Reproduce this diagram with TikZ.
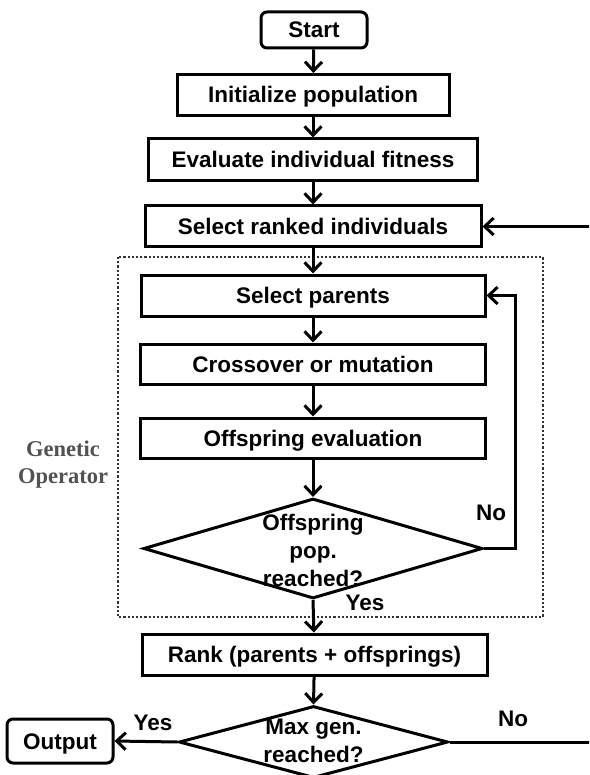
\documentclass[tikz,border=0pt]{standalone}
\usepackage{fontspec}
\setmainfont{Liberation Sans}
\newfontfamily\serifbold{Liberation Serif}
\usetikzlibrary{shapes.geometric,arrows.meta}
\begin{document}
\begin{tikzpicture}[x=1pt,y=-1pt,
  txt/.style={font=\bfseries\fontsize{22.5}{28}\selectfont},
  box/.style={txt,draw=black,line width=3pt,rectangle,inner sep=0pt,align=center,text height=16pt,text depth=0pt},
  rbox/.style={box,rounded corners=6pt},
  dia/.style={draw=black,line width=3pt,diamond,inner sep=0pt},
  dtext/.style={txt,align=center,inner sep=0pt},
  lbl/.style={txt,inner sep=0pt},
  arr/.style={line width=3pt,-{Straight Barb[length=9pt,width=17pt]}},
  grp/.style={draw=black!80,line width=2.4pt,dash pattern=on 2.2pt off 2pt}]
\useasboundingbox (0,0) rectangle (589,775);
\fill[white] (0,0) rectangle (589,775);
\clip (0,0) rectangle (589,775);

\node[rbox,minimum width=106pt,minimum height=36pt] (start) at (314,30) {Start};
\node[box,minimum width=272pt,minimum height=41pt] (init) at (313,95) {Initialize population};
\node[box,minimum width=329pt,minimum height=42pt] (eval) at (313,160) {Evaluate individual fitness};
\node[box,minimum width=336pt,minimum height=41pt] (ranked) at (313,226.5) {Select ranked individuals};
\node[box,minimum width=344pt,minimum height=41pt] (parents) at (313,295.5) {Select parents};
\node[box,minimum width=345pt,minimum height=40pt] (cross) at (313,364) {Crossover or mutation};
\node[box,minimum width=345pt,minimum height=40pt] (offeval) at (313,438) {Offspring evaluation};
\node[dia,minimum width=339pt,minimum height=100pt] (d1) at (313,548.5) {};
\node[dtext] (d1t) at (313,550) {Offspring\\pop.\\reached?};
\node[box,minimum width=345pt,minimum height=41pt] (rank) at (314.5,654.5) {Rank (parents + offsprings)};
\node[dia,minimum width=269pt,minimum height=72pt] (d2) at (313.5,742) {};
\node[dtext] (d2t) at (313.5,741) {Max gen.\\reached?};
\node[rbox,minimum width=106pt,minimum height=44pt] (output) at (60,741) {Output};

\draw[grp] (118,257) rectangle (543,617);
\node[font=\serifbold\bfseries\fontsize{22.5}{27}\selectfont,text=black!68,align=center,inner sep=0pt] (gen) at (63,465) {Genetic\\Operator};

\node[lbl] (no1) at (491,513) {No};
\node[lbl] (yes1) at (365,603) {Yes};
\node[lbl] (yes2) at (153,723) {Yes};
\node[lbl] (no2) at (513,719) {No};

\draw[arr] (start) -- (init);
\draw[arr] (init) -- (eval);
\draw[arr] (eval) -- (ranked);
\draw[arr] (ranked) -- (parents);
\draw[arr] (parents) -- (cross);
\draw[arr] (cross) -- (offeval);
\draw[arr] (offeval) -- (d1.north);
\draw[arr] (d1.south) -- (rank);
\draw[arr] (d1.east) -- ++(31,0) |- (parents.east);
\draw[arr] (rank) -- (d2.north);
\draw[arr] (d2.west) -- (output.east);
\draw[arr] (d2.east) -- ++(170,0) |- (ranked.east);
\end{tikzpicture}
\end{document}
